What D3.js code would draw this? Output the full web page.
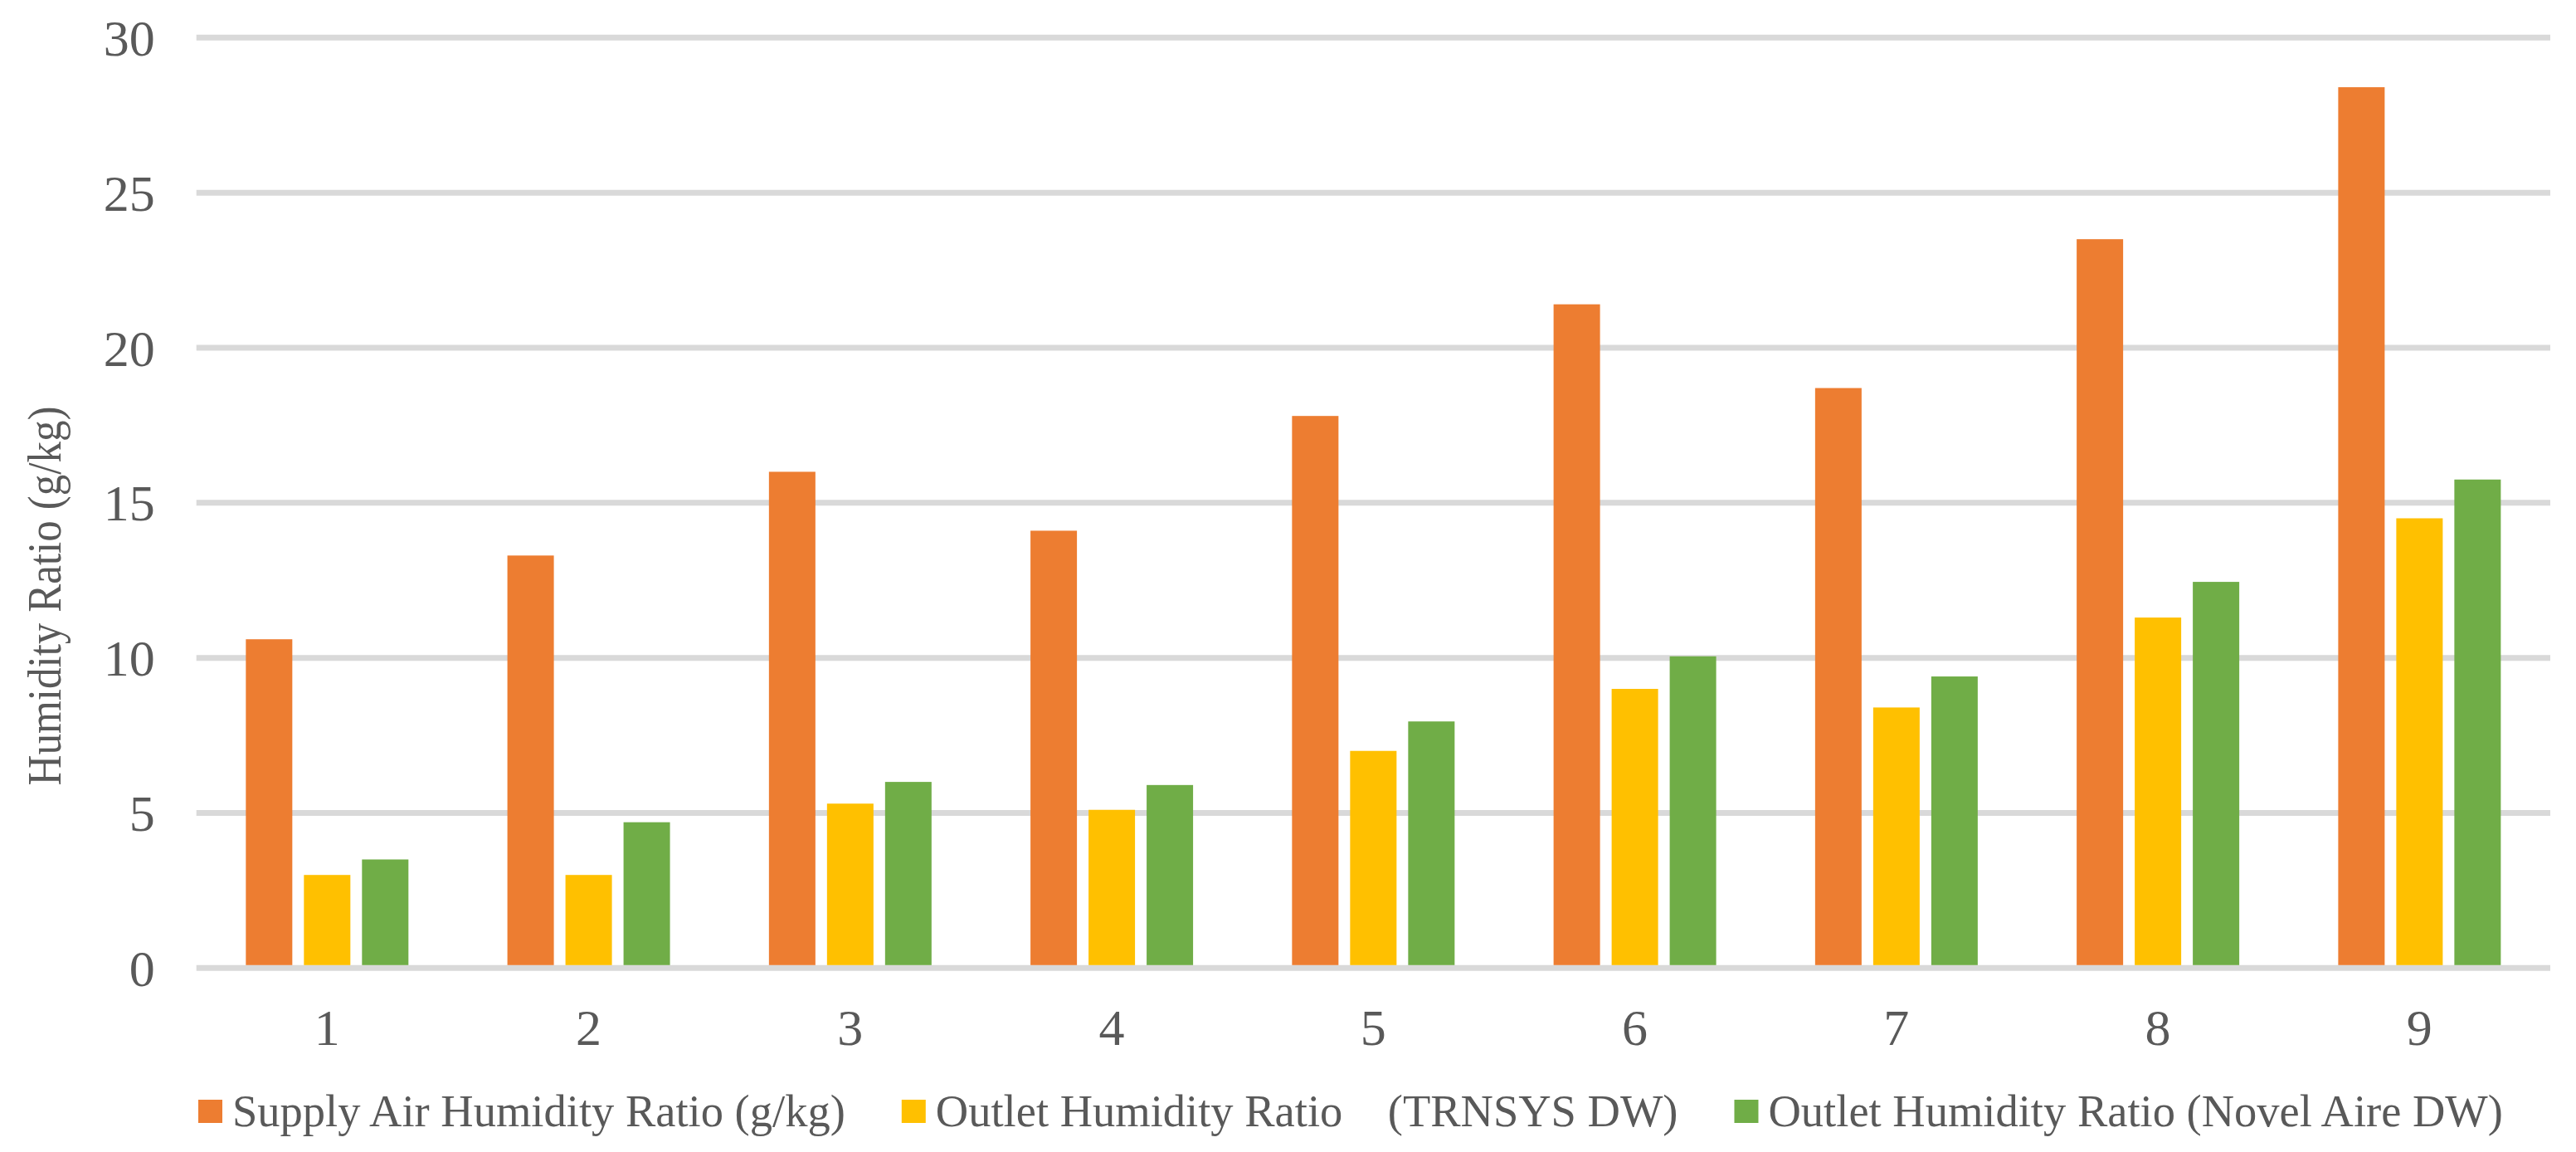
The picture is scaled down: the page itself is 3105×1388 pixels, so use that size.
<!DOCTYPE html>
<html>
<head>
<meta charset="utf-8">
<script src="https://cdn.jsdelivr.net/npm/d3@7"></script>
<style>
  html, body { margin: 0; padding: 0; background: #fff; }
  text { font-family: "Liberation Serif", "Times New Roman", serif; fill: #595959; }
</style>
</head>
<body>
<div id="chart"></div>
<script>
// chart data
const categories = ["1", "2", "3", "4", "5", "6", "7", "8", "9"];
const supplyAir = [10.6, 13.3, 16.0, 14.1, 17.8, 21.4, 18.7, 23.5, 28.4];
const outletTrnsys = [3.0, 3.0, 5.3, 5.1, 7.0, 9.0, 8.4, 11.3, 14.5];
const outletNovel = [3.5, 4.7, 6.0, 5.9, 7.95, 10.05, 9.4, 12.45, 15.75];
const seriesNames = [
    "Supply Air Humidity Ratio (g/kg)",
    "Outlet Humidity Ratio    (TRNSYS DW)",
    "Outlet Humidity Ratio (Novel Aire DW)"
];
const yTicks = [0, 5, 10, 15, 20, 25, 30];
const colors = ["#ED7D31", "#FFC000", "#70AD47"];

const W = 3105, H = 1388;
const margin = {top: 45.3, right: 31, bottom: 221.7, left: 236.7},
      width = W - margin.left - margin.right,
      height = H - margin.top - margin.bottom;

const svg = d3.select("#chart")
    .append("svg")
    .attr("width", W)
    .attr("height", H);

const g = svg.append("g")
    .attr("transform", `translate(${margin.left}, ${margin.top})`);

const values = [supplyAir, outletTrnsys, outletNovel];
const data = categories.map((c, i) => ({
    cat: c,
    vals: seriesNames.map((s, k) => ({key: k, value: values[k][i]}))
}));

// scales
const x0 = d3.scaleBand()
    .domain(categories)
    .range([0, width])
    .padding(0);

const x1 = d3.scaleBand()
    .domain([0, 1, 2])
    .range([0, x0.bandwidth()])
    .paddingInner(0.2)
    .paddingOuter(0.852);

const y = d3.scaleLinear()
    .domain([0, 30])
    .range([height, 0]);

// gridlines
g.append("g")
    .selectAll("line")
    .data(yTicks)
    .join("line")
    .attr("x1", 0)
    .attr("x2", width)
    .attr("y1", d => y(d))
    .attr("y2", d => y(d))
    .attr("stroke", "#D9D9D9")
    .attr("stroke-width", 7);

// bars
g.append("g")
    .selectAll("g")
    .data(data)
    .join("g")
    .attr("transform", d => `translate(${x0(d.cat)}, 0)`)
    .selectAll("rect")
    .data(d => d.vals)
    .join("rect")
    .attr("x", d => x1(d.key))
    .attr("width", x1.bandwidth())
    .attr("y", d => y(d.value))
    .attr("height", d => y(0) - 3.5 - y(d.value))
    .attr("fill", d => colors[d.key]);

// y axis labels
const yAxis = g.append("g")
    .attr("transform", "translate(-50, 0)")
    .call(d3.axisLeft(y).tickValues(yTicks).tickSize(0).tickPadding(0));
yAxis.select(".domain").remove();
yAxis.selectAll("text")
    .attr("font-size", "62px")
    .attr("font-family", null)
    .attr("dy", "0.34em");

// x axis labels
const xAxis = g.append("g")
    .attr("transform", `translate(0, ${height})`)
    .call(d3.axisBottom(x0).tickSize(0).tickPadding(0));
xAxis.select(".domain").remove();
xAxis.selectAll("text")
    .attr("font-size", "62px")
    .attr("font-family", null)
    .attr("dy", null)
    .attr("y", 93);

// y axis title
svg.append("text")
    .attr("transform", "translate(73, 718) rotate(-90)")
    .attr("text-anchor", "middle")
    .attr("font-size", "56px")
    .attr("textLength", 457)
    .attr("lengthAdjust", "spacingAndGlyphs")
    .text("Humidity Ratio (g/kg)");

// legend
const legend = svg.append("g");
let lx = 239;
seriesNames.forEach((name, k) => {
    legend.append("rect")
        .attr("x", lx)
        .attr("y", 1325)
        .attr("width", 29)
        .attr("height", 28)
        .attr("fill", colors[k]);
    const t = legend.append("text")
        .attr("x", lx + 41)
        .attr("y", 1357)
        .attr("font-size", "54.5px")
        .style("white-space", "pre")
        .text(name);
    lx = lx + 41 + t.node().getComputedTextLength() + 68;
});
</script>
</body>
</html>
